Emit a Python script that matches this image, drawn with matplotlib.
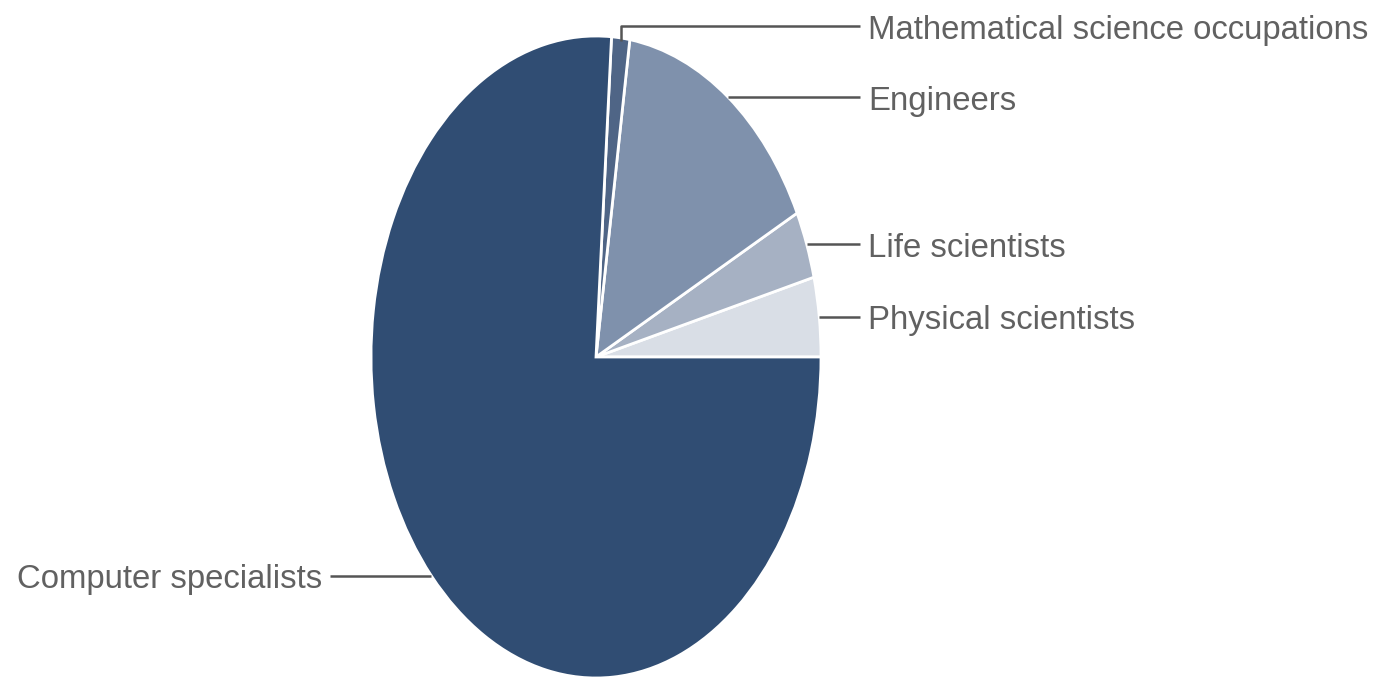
import matplotlib.pyplot as plt
import numpy as np

# wedge order: counter-clockwise from 3 o'clock
labels = ['Physical scientists', 'Life scientists', 'Engineers',
          'Mathematical science occupations', 'Computer specialists']
shares = [4.0, 3.4, 15.2, 1.3, 76.1]
colors = ['#d9dee6', '#a6b1c3', '#7f91ac', '#4f6586', '#304d73']


def main():
    fig = plt.figure(figsize=(13.86, 6.77), dpi=100)
    # the reference pie is stretched into an ellipse
    ax = fig.add_axes([371 / 1386, -1 / 677, 450 / 1386, 642 / 677])
    wedges, _ = ax.pie(shares, colors=colors, startangle=0, counterclock=True,
                       radius=1, wedgeprops=dict(edgecolor='white', linewidth=2))
    ax.set_xlim(-1, 1)
    ax.set_ylim(-1, 1)
    ax.set_aspect('auto')
    ax.axis('off')

    line_kw = dict(color='#555555', lw=1.8, clip_on=False, solid_capstyle='butt')
    text_kw = dict(fontsize=23.7, color='#616161', va='center',
                   family=['Liberation Sans', 'DejaVu Sans'])
    x_right, x_left = 1.173, -1.182

    for w, lab in zip(wedges, labels):
        mid = np.deg2rad((w.theta1 + w.theta2) / 2)
        x0, y0 = np.cos(mid), np.sin(mid)
        if lab.startswith('Mathematical'):
            y_lab = 1.03
            ax.plot([x0, x0, x_right], [y0 - 0.01, y_lab, y_lab], **line_kw)
            ax.text(x_right + 0.035, y_lab - 0.012, lab, ha='left', **text_kw)
        elif x0 > 0:
            ax.plot([x0, x_right], [y0, y0], **line_kw)
            ax.text(x_right + 0.035, y0 - 0.012, lab, ha='left', **text_kw)
        else:
            ax.plot([x0, x_left], [y0, y0], **line_kw)
            ax.text(x_left - 0.035, y0 - 0.012, lab, ha='right', **text_kw)

    fig.savefig('out.png', dpi=100)


if __name__ == "__main__":
    main()
